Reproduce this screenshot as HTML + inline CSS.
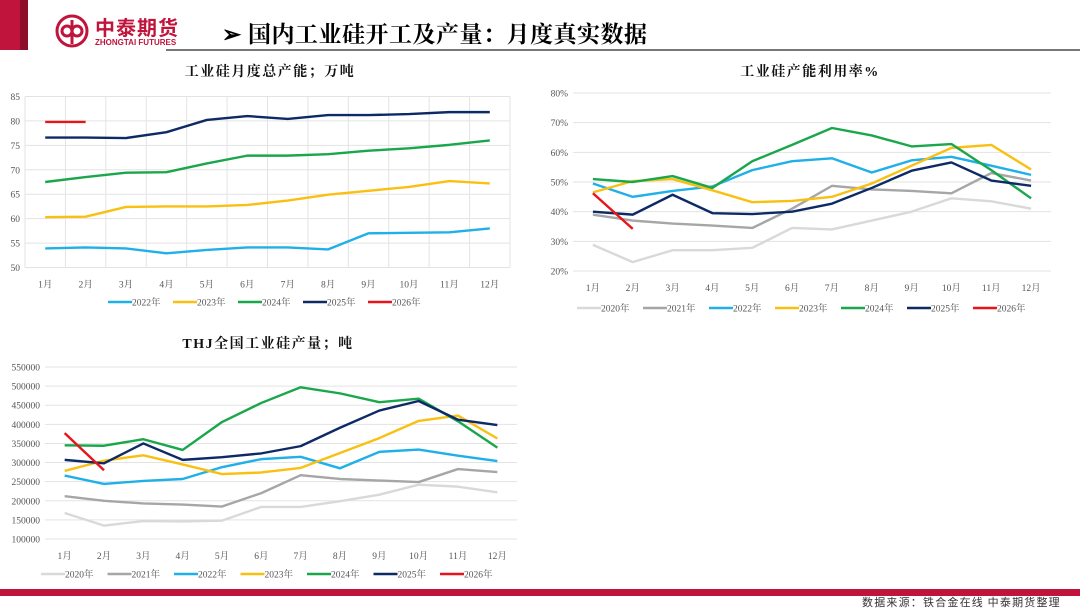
<!DOCTYPE html>
<html><head><meta charset="utf-8"><style>
body{margin:0;width:1080px;height:608px;background:#fff;overflow:hidden;position:relative;font-family:"Liberation Serif","Noto Serif CJK SC",serif}
.abs{position:absolute}
</style></head><body>
<div class="abs" style="left:0;top:0;width:28px;height:50px;background:#c0143c"></div>
<div class="abs" style="left:20px;top:0;width:8px;height:50px;background:#8e0e2a"></div>
<div class="abs" style="left:55px;top:14px;width:150px;height:36px">
<svg width="36" height="36" style="position:absolute;left:0;top:0"><circle cx="17" cy="17" r="15" fill="none" stroke="#c0143c" stroke-width="3"/><circle cx="12" cy="17" r="5" fill="none" stroke="#c0143c" stroke-width="3"/><circle cx="22" cy="17" r="5" fill="none" stroke="#c0143c" stroke-width="3"/><line x1="17" y1="6" x2="17" y2="30" stroke="#c0143c" stroke-width="3"/></svg>
<div class="abs" style="left:40px;top:-2px;font:bold 20px 'Noto Sans CJK SC',sans-serif;color:#c0143c;letter-spacing:1px">中泰期货</div>
<div class="abs" style="left:40px;top:24px;font:bold 8px 'Liberation Sans',sans-serif;color:#c0143c;white-space:nowrap">ZHONGTAI FUTURES</div>
</div>
<div class="abs" style="left:222px;top:16px;font:bold 23px 'Noto Serif CJK SC',serif;color:#000;white-space:nowrap;letter-spacing:0.5px">➢ 国内工业硅开工及产量：月度真实数据</div>
<div class="abs" style="left:166px;top:49px;width:914px;height:2px;background:#777"></div>
<div class="abs" style="left:0;top:589px;width:1080px;height:7px;background:#c0143c"></div>
<div class="abs" style="left:862px;top:594px;font:11px 'Noto Sans CJK SC',sans-serif;color:#333;white-space:nowrap;letter-spacing:1.2px">数据来源：铁合金在线 中泰期货整理</div>
<svg id="svg" class="abs" style="left:0;top:0" width="1080" height="608"></svg>
<script>
const months=["1月","2月","3月","4月","5月","6月","7月","8月","9月","10月","11月","12月"];
const colors={"2020":"#d9d9d9","2021":"#a6a6a6","2022":"#1fb0e8","2023":"#f9c012","2024":"#1aa64a","2025":"#0e2a66","2026":"#e8141a"};
// chart 1: capacity
const cap2022=[53.9,54.1,53.9,52.9,53.6,54.1,54.1,53.7,57.0,57.1,57.2,58.0];
const cap2023=[60.3,60.4,62.4,62.5,62.5,62.8,63.7,64.9,65.7,66.5,67.7,67.2];
const cap2024=[67.5,68.5,69.4,69.5,71.3,72.9,72.9,73.2,73.9,74.4,75.1,76.0];
const cap2025=[76.6,76.6,76.5,77.7,80.2,81.0,80.4,81.2,81.2,81.4,81.8,81.8];
const cap2026=[79.8,79.8];
const capTicks=[50,55,60,65,70,75,80,85];
// chart 2: utilization %
const ut2020=[28.8,23,27,27,27.8,34.5,34,37,40,44.5,43.5,41];
const ut2021=[39,37,36,35.3,34.5,41,48.7,47.5,47,46.2,53,50.5];
const ut2022=[49.5,45,47,48.5,54,57,58,53.2,57.3,58.5,55.5,52.4];
const ut2023=[46.5,50.3,51,47.2,43.2,43.6,45,49.5,55.5,61.5,62.5,54.2];
const ut2024=[51,50,52,48,57,62.5,68.2,65.7,62,62.8,54,44.5];
const ut2025=[40,39,45.7,39.5,39.2,40,42.7,48,53.8,56.6,50.5,48.7];
const ut2026=[46.2,34.2];
const utTicks=[20,30,40,50,60,70,80];
// chart 3: output tonnes
const out2020=[168000,135000,147000,146000,148000,184000,184000,199000,216000,242000,237000,222000];
const out2021=[212000,200000,193000,190000,185000,220000,267000,257000,253000,249000,283000,275000];
const out2022=[266000,244000,252000,257000,288000,309000,315000,285000,328000,334000,318000,304000];
const out2023=[278000,305000,319000,295000,270000,274000,286000,325000,364000,409000,423000,363000];
const out2024=[345000,344000,361000,333000,406000,456000,497000,481000,458000,467000,408000,339000];
const out2025=[307000,298000,350000,307000,314000,324000,343000,391000,436000,461000,412000,398000];
const out2026=[377000,280000];
const outTicks=[100000,150000,200000,250000,300000,350000,400000,450000,500000,550000];

const NS="http://www.w3.org/2000/svg";
const svg=document.getElementById('svg');
function mk(tag,attrs,parent){const e=document.createElementNS(NS,tag);for(const k in attrs)e.setAttribute(k,attrs[k]);(parent||svg).appendChild(e);return e;}
function chart(o){
  const g=mk('g',{});
  
  
  const bw=(o.x1-o.x0)/12;
  const xs=i=>o.x0+bw*(i+0.5);
  const ys=v=>o.y1-(v-o.ticks[0])/(o.ticks[o.ticks.length-1]-o.ticks[0])*(o.y1-o.y0);
  o.ticks.forEach(t=>{
    const l=mk('line',{x1:o.x0,x2:o.x1,y1:ys(t),y2:ys(t),stroke:'#e3e3e3','stroke-width':1},g);
    
    
    const tx=mk('text',{x:o.x0-5,y:ys(t)+3.5,'text-anchor':'end','font-size':9.5,fill:'#555'},g);
    tx.textContent=o.fmt(t);
    
    
  });
  if(o.vgrid){for(let i=0;i<=12;i++){const l=mk('line',{x1:o.x0+bw*i,x2:o.x0+bw*i,y1:o.y0,y2:o.y1,stroke:'#e3e3e3'},g);
    
    }}
  months.forEach((m,i)=>{const t=mk('text',{x:xs(i),y:o.y1+20,'text-anchor':'middle','font-size':9.5,fill:'#555'},g);t.textContent=m;
    
    });
  const ti=mk('text',{x:o.tx,y:o.ty,'text-anchor':'middle','font-size':14,'font-weight':'bold',fill:'#111','font-family':"'Liberation Serif','Noto Serif CJK SC',serif",'letter-spacing':1.5},g);
  ti.textContent=o.title;
  
  
  o.series.forEach(([yr,arr])=>{
    const p=mk('polyline',{points:arr.map((v,i)=>xs(i)+','+ys(v)).join(' '),fill:'none',stroke:colors[yr],'stroke-width':2.4,'stroke-linejoin':'round'},g);
    
    
  });
  let lx=o.lx;
  o.series.forEach(([yr])=>{
    const l=mk('line',{x1:lx,x2:lx+24,y1:o.ly,y2:o.ly,stroke:colors[yr],'stroke-width':2.4},g);
    
    
    const t=mk('text',{x:lx+24,y:o.ly+3.5,'font-size':9.5,fill:'#555'},g);
    t.textContent=yr+'年';
    
    
    lx+=o.lstep;
  });
}
chart({name:'capacity-chart',x0:25,x1:510,y0:96.5,y1:267.5,ticks:capTicks,fmt:t=>t,vgrid:true,title:'工业硅月度总产能；万吨',tx:270,ty:76,lx:108,ly:302,lstep:65,
  series:[["2022",cap2022],["2023",cap2023],["2024",cap2024],["2025",cap2025],["2026",cap2026]]});
chart({name:'utilization-chart',x0:573,x1:1051,y0:93,y1:271,ticks:utTicks,fmt:t=>t+'%',title:'工业硅产能利用率%',tx:810,ty:76,lx:577,ly:308,lstep:66,
  series:[["2020",ut2020],["2021",ut2021],["2022",ut2022],["2023",ut2023],["2024",ut2024],["2025",ut2025],["2026",ut2026]]});
chart({name:'output-chart',x0:45,x1:517,y0:367,y1:539,ticks:outTicks,fmt:t=>t,title:'THJ全国工业硅产量；吨',tx:268,ty:348,lx:41,ly:574,lstep:66.5,
  series:[["2020",out2020],["2021",out2021],["2022",out2022],["2023",out2023],["2024",out2024],["2025",out2025],["2026",out2026]]});
</script>
</body></html>
